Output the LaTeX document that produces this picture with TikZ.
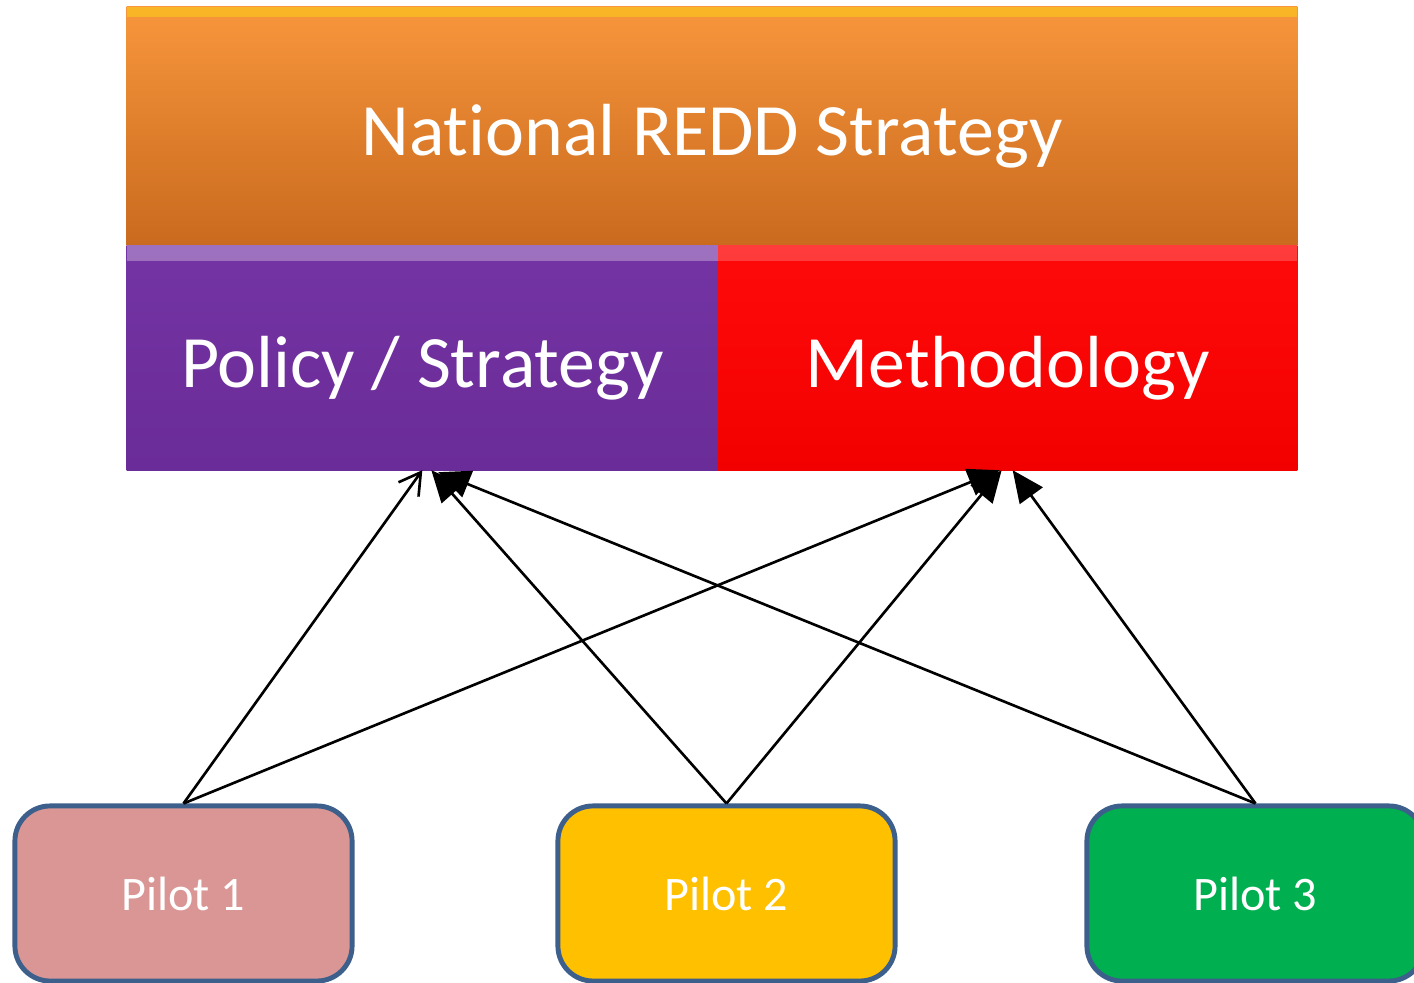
\documentclass[tikz,border=0pt]{standalone}
\usepackage{fontspec}
\setmainfont{Carlito}[Ligatures=NoCommon]
\usetikzlibrary{positioning,arrows.meta}

\definecolor{natorange}{HTML}{F7963C}
\definecolor{natorangedark}{HTML}{C96A1E}
\definecolor{polpurple}{HTML}{7434A4}
\definecolor{polpurpledark}{HTML}{6A2C98}
\definecolor{methred}{HTML}{FF0A0A}
\definecolor{methreddark}{HTML}{F20000}
\definecolor{pilotedge}{HTML}{3D5F8C}
\definecolor{pilotpink}{HTML}{D99694}
\definecolor{pilotyellow}{HTML}{FFC000}
\definecolor{pilotgreen}{HTML}{00B050}

\begin{document}
\begin{tikzpicture}[
x=0.01cm,y=-0.01cm,
level/.style={
	inner sep=0pt,
	outer sep=0pt,
	text=white,
	text height=16.8pt,
	text depth=0pt,
	font=\fontsize{21}{25}\selectfont
},
pilot/.style={
	draw=pilotedge,
	line width=1.4pt,
	rounded corners=10pt,
	minimum width=33.7mm,
	minimum height=17.5mm,
	text=white,
	font=\fontsize{13.7}{16}\selectfont
},
feed/.style={
	-{Triangle[length=9pt,width=8pt]},
	line width=0.75pt
},
feedopen/.style={
	-{Straight Barb[length=6pt,width=7pt,line width=0.75pt]},
	line width=0.75pt
}
]
\useasboundingbox (0,0) rectangle (1414,983);
\clip (0,0) rectangle (1414,983);

% top level
\node[level,top color=natorange,bottom color=natorangedark,
	minimum width=117mm,minimum height=23.8mm] (nat) at (712,126) {National REDD Strategy};

% second level
\node[level,top color=polpurple,bottom color=polpurpledark,
	minimum width=59.1mm,minimum height=22.5mm,
	below right=0mm and 0mm of nat.south west] (pol) {Policy / Strategy};
\node[level,top color=methred,bottom color=methreddark,
	minimum width=57.9mm,minimum height=22.5mm,
	right=0mm of pol] (meth) {Methodology};

% light top edges
\fill[white,opacity=0.3] (pol.north west) rectangle ([yshift=-1.6mm]pol.north east);
\fill[white,opacity=0.2] (meth.north west) rectangle ([yshift=-1.6mm]meth.north east);
\fill[yellow,opacity=0.35] (nat.north west) rectangle ([yshift=-1mm]nat.north east);

% pilots
\node[pilot,fill=pilotpink] (p1) at (183.5,893.5) {Pilot 1};
\node[pilot,fill=pilotyellow] (p2) at (726.5,893.5) {Pilot 2};
\node[pilot,fill=pilotgreen] (p3) at (1255.5,893.5) {Pilot 3};

\draw[feedopen] (p1.north) -- (pol.south);
\draw[feed] (p2.north) -- ([xshift=0.9mm]pol.south);
\draw[feed] (p3.north) -- ([xshift=1.6mm,yshift=-0.2mm]pol.south);
\draw[feed] (p1.north) -- ([xshift=-0.8mm]meth.south);
\draw[feed] (p2.north) -- ([xshift=-0.6mm]meth.south);
\draw[feed] (p3.north) -- ([xshift=0.5mm]meth.south);
\end{tikzpicture}
\end{document}
